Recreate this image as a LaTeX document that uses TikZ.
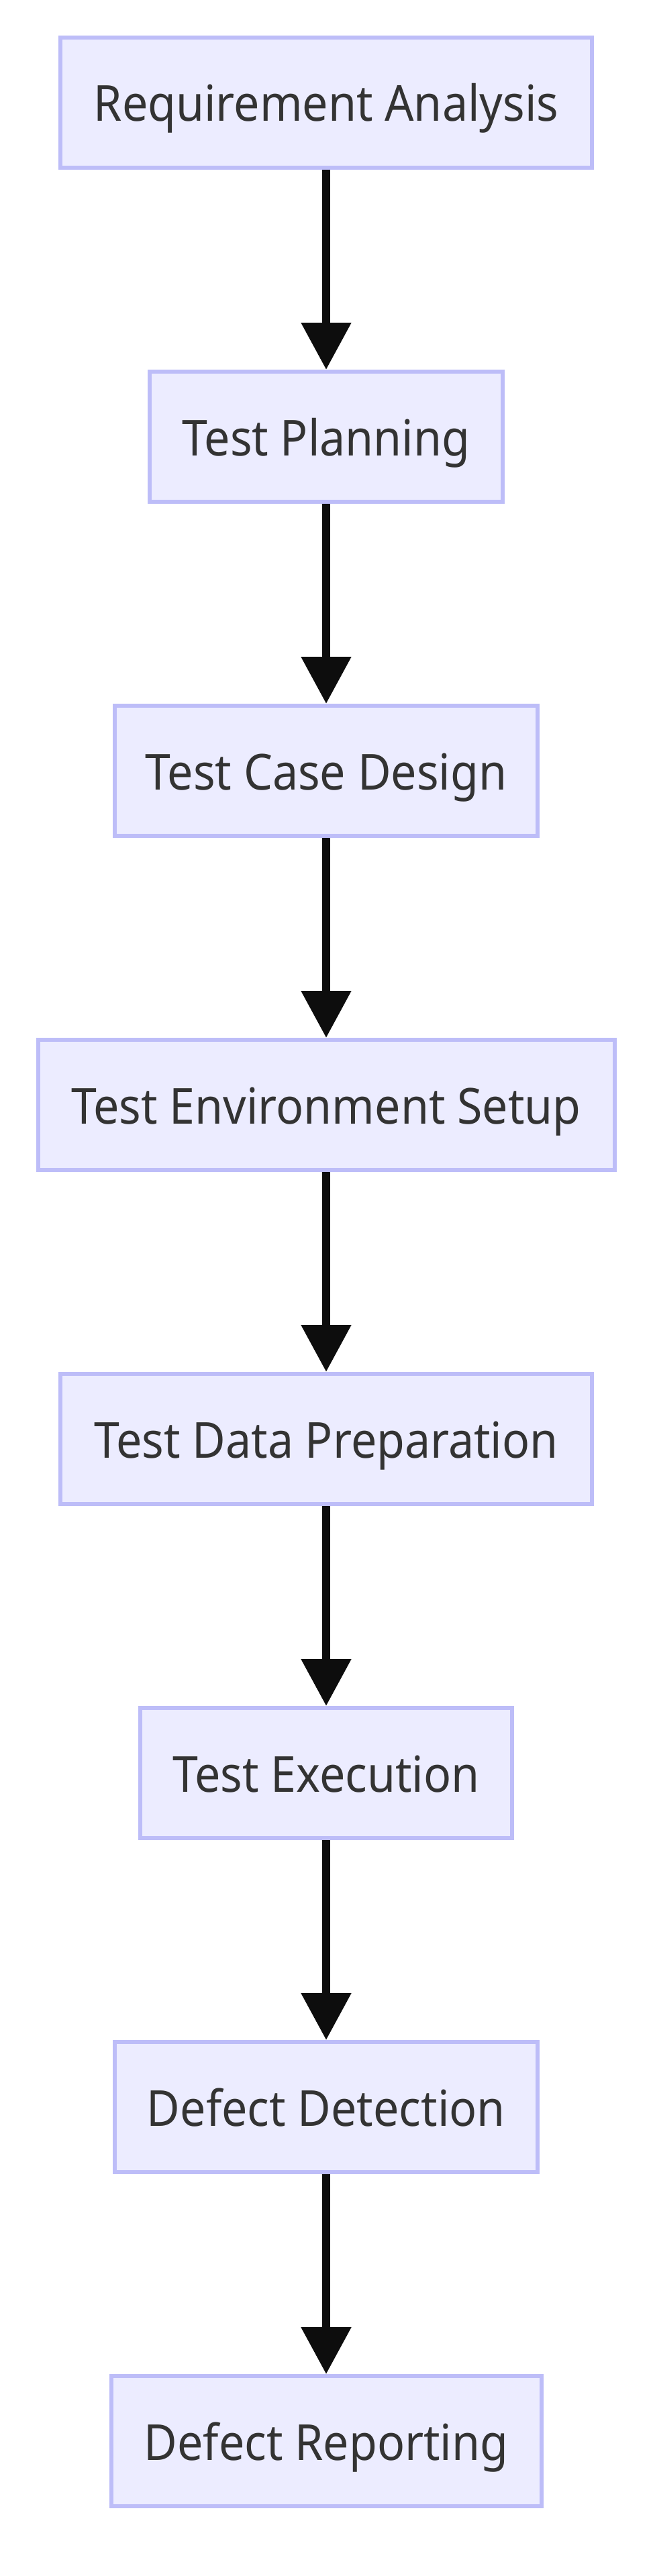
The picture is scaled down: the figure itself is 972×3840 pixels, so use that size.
\documentclass[tikz,border=0pt]{standalone}
\usepackage{fontspec}
\setmainfont[FakeStretch=0.92]{Noto Sans}
\usetikzlibrary{arrows.meta,positioning}
\definecolor{stagefill}{HTML}{ECECFF}
\definecolor{stageline}{HTML}{BDBDF8}
\definecolor{stagetext}{HTML}{333333}
\definecolor{flowline}{HTML}{0D0D0D}
\tikzset{
  stage/.style={draw=stageline, fill=stagefill, line width=6pt, text=stagetext,
    minimum height=194pt, inner xsep=0pt, text height=56pt, text depth=0pt,
    font=\fontsize{74}{88}\selectfont},
  flow/.style={draw=flowline, line width=12pt, -{Triangle[length=70pt,width=72pt]}}
}

\begin{document}
\begin{tikzpicture}[node distance=298pt]
\useasboundingbox (0,0) rectangle (972pt,-3840pt);
\node[stage, minimum width=792pt] (req) at (486pt,-153pt) {Requirement Analysis};
\node[stage, minimum width=526pt, below=of req] (plan) {Test Planning};
\node[stage, minimum width=630pt, below=of plan] (design) {Test Case Design};
\node[stage, minimum width=859pt, below=of design] (env) {Test Environment Setup};
\node[stage, minimum width=792pt, below=of env] (data) {Test Data Preparation};
\node[stage, minimum width=554pt, below=of data] (exec) {Test Execution};
\node[stage, minimum width=630pt, below=of exec] (detect) {Defect Detection};
\node[stage, minimum width=641pt, below=of detect] (report) {Defect Reporting};
\draw[flow] (req) -- (plan);
\draw[flow] (plan) -- (design);
\draw[flow] (design) -- (env);
\draw[flow] (env) -- (data);
\draw[flow] (data) -- (exec);
\draw[flow] (exec) -- (detect);
\draw[flow] (detect) -- (report);
\end{tikzpicture}
\end{document}
